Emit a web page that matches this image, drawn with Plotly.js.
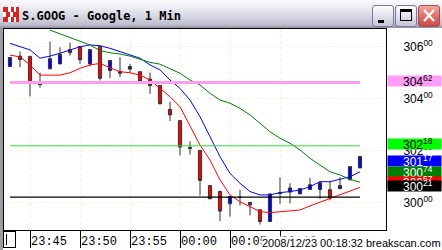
<!DOCTYPE html>
<html><head><meta charset="utf-8">
<script src="https://cdn.plot.ly/plotly-3.0.1.min.js"></script>
<style>
html,body{margin:0;padding:0;background:#fff;width:442px;height:250px;overflow:hidden;}
#bar{position:absolute;left:0;top:0;width:442px;height:28px;background:linear-gradient(#fbfbfd 0px,#ededf3 7px,#d8d8e4 16px,#bcbccc 25px,#8e8ea4 28px);}
#left{position:absolute;left:0;top:28px;width:3px;height:222px;background:#9c9ca4;}
.btn{position:absolute;top:5px;width:22px;height:22px;border:1px solid #7a7a98;border-radius:3px;box-sizing:border-box;background:linear-gradient(#fdfdff,#e2e2ec 50%,#c4c4d6);}
#bclose{background:linear-gradient(#f2a8a0,#e07068 50%,#c84a44);border-color:#a05050;}
#icon{position:absolute;left:3px;top:7px;width:16px;height:15px;background:
 linear-gradient(90deg,#d22 0 5px,#fff 5px 8px,#d22 8px 11px,#fff 11px 13px,#d22 13px);}
#icon2{position:absolute;left:3px;top:12px;width:16px;height:5px;background:linear-gradient(90deg,#fff 0 3px,#d22 3px 7px,#fff 7px 10px,#d22 10px 16px);}
#chart{position:absolute;left:0;top:0;width:442px;height:250px;}
#blbox{position:absolute;left:3px;top:231px;width:13px;height:17px;border:1px solid #000;box-sizing:border-box;background:#fff;}
#blbox i{position:absolute;left:2px;top:2px;width:1px;height:11px;background:#000;}
</style></head>
<body>
<div id="bar"></div>
<div id="icon"></div><div id="icon2"></div>
<div class="btn" style="left:372px"><div style="position:absolute;left:5px;top:14px;width:6px;height:3px;background:#000"></div></div>
<div class="btn" style="left:395px"><div style="position:absolute;left:4px;top:3px;width:12px;height:12px;border:1px solid #000;border-top-width:3px;box-sizing:border-box"></div></div>
<div class="btn" id="bclose" style="left:418px"><svg width="20" height="20" style="position:absolute;left:0;top:0"><path d="M5 4 L15 15 M15 4 L5 15" stroke="#fff" stroke-width="2.2"/></svg></div>
<div id="left"></div>
<div id="blbox"><i></i></div>
<div id="chart"></div>
<script>
// ---- data ----
const times = [
 '2008-12-22 23:43','2008-12-22 23:44','2008-12-22 23:45','2008-12-22 23:46','2008-12-22 23:47','2008-12-22 23:48',
 '2008-12-22 23:49','2008-12-22 23:50','2008-12-22 23:51','2008-12-22 23:52','2008-12-22 23:53','2008-12-22 23:54',
 '2008-12-22 23:55','2008-12-22 23:56','2008-12-22 23:57','2008-12-22 23:58','2008-12-22 23:59','2008-12-23 00:00',
 '2008-12-23 00:01','2008-12-23 00:02','2008-12-23 00:03','2008-12-23 00:04','2008-12-23 00:05','2008-12-23 00:06',
 '2008-12-23 00:07','2008-12-23 00:08','2008-12-23 00:09','2008-12-23 00:10','2008-12-23 00:11','2008-12-23 00:12',
 '2008-12-23 00:13','2008-12-23 00:14','2008-12-23 00:15','2008-12-23 00:16','2008-12-23 00:17','2008-12-23 00:18'];
const openP  = [305.23,305.63,305.62,304.56,305.14,305.33,305.88,306.00,305.33,306.00,305.08,305.04,
                305.13,305.03,304.75,304.50,303.58,303.15,302.12,302.00,300.65,300.42,299.95,300.21,
                299.91,299.72,299.27,300.35,300.40,300.33,300.50,300.50,300.49,300.53,300.87,301.33];
const highP  = [305.58,305.81,305.62,305.00,306.19,305.97,306.15,306.00,305.88,306.00,305.46,305.59,
                305.33,305.03,305.00,304.50,303.88,303.15,302.35,302.00,300.65,300.46,300.23,300.49,
                300.00,299.72,300.33,300.97,300.74,300.54,300.95,300.82,300.82,300.97,301.38,301.77];
const lowP   = [305.23,305.20,304.08,304.42,305.14,305.33,305.65,305.33,305.24,304.69,304.78,304.82,
                304.99,304.65,304.18,303.77,303.13,301.81,301.85,300.27,300.14,299.28,299.46,299.88,
                299.50,299.15,299.27,299.95,299.96,300.33,300.50,300.14,300.08,300.53,300.87,301.33];
const closeP = [305.58,305.50,304.60,304.54,305.53,305.69,305.76,305.49,305.88,304.78,305.46,304.97,
                305.23,304.65,304.50,303.80,303.37,302.13,302.08,300.85,300.14,299.67,300.23,300.19,
                300.00,299.27,300.33,300.37,300.56,300.54,300.68,300.76,300.18,300.65,301.38,301.77];
const maBlue = [306.12,305.99,305.87,305.55,305.63,305.74,305.87,305.99,306.06,306.03,305.93,305.80,
                305.67,305.55,305.29,305.10,304.71,304.39,303.94,303.30,302.53,301.76,301.12,300.74,
                300.42,300.29,300.29,300.38,300.42,300.48,300.61,300.80,300.80,300.89,300.99,301.18];
const maRed  = [305.67,305.60,305.29,304.90,304.90,304.90,304.99,305.16,305.29,305.35,305.18,305.03,
                304.99,304.90,304.71,304.40,304.07,303.68,302.92,302.21,301.63,300.87,300.29,300.03,
                299.84,299.65,299.61,299.65,299.67,299.71,299.87,300.02,300.16,300.30,300.44,300.58];
const maGreenTimes = times.slice(4);
const maGreen = [306.63,306.48,306.35,306.18,306.06,305.84,305.76,305.71,305.63,305.51,305.39,305.32,
                 305.16,304.97,304.71,304.52,304.20,303.94,303.82,303.62,303.37,303.05,302.72,302.47,
                 302.28,302.02,301.70,301.44,301.18,301.06,300.89,300.78];
const levelPink = 304.62, levelGreen = 302.18, levelBlack = 300.21;
const lastBlue = 301.17, lastGreen = 300.74, lastRed = 300.57;
const yTickVals = [300, 302, 304, 306];
const xTickVals = ['2008-12-22 23:45','2008-12-22 23:50','2008-12-22 23:55','2008-12-23 00:00',
                   '2008-12-23 00:05','2008-12-23 00:10'];
const stampText = '2008/12/23 00:18:32 breakscan.com';
const titleText = 'S.GOOG - Google, 1 Min';

// ---- chart ----
function fmt(v){ const s = v.toFixed(2).split('.'); return s[0] + '<sup>' + s[1] + '</sup>'; }
const span = [times[0], times[times.length-1]];
const traces = [
 {type:'candlestick', x:times, open:openP, high:highP, low:lowP, close:closeP,
  increasing:{line:{color:'#333333', width:1}, fillcolor:'#0000ff'},
  decreasing:{line:{color:'#333333', width:1}, fillcolor:'#ff0000'},
  whiskerwidth:0, hoverinfo:'skip'},
 {type:'scatter', mode:'lines', x:times, y:maBlue, line:{color:'#0000ff', width:1}, hoverinfo:'skip'},
 {type:'scatter', mode:'lines', x:times, y:maRed, line:{color:'#ff0000', width:1}, hoverinfo:'skip'},
 {type:'scatter', mode:'lines', x:maGreenTimes, y:maGreen, line:{color:'#008000', width:1}, hoverinfo:'skip'},
 {type:'scatter', mode:'lines', x:span, y:[levelPink, levelPink], line:{color:'#ff9cf0', width:3}, hoverinfo:'skip'},
 {type:'scatter', mode:'lines', x:span, y:[levelGreen, levelGreen], line:{color:'#30dd30', width:1}, hoverinfo:'skip'},
 {type:'scatter', mode:'lines', x:span, y:[levelBlack, levelBlack], line:{color:'#000000', width:1.3}, hoverinfo:'skip'}
];
function box(v, bg, fg, shift){
  return [
   {xref:'paper', x:1, xanchor:'left', xshift:1, yref:'y', y:v, yanchor:'middle', yshift:shift,
    text:'&nbsp;', showarrow:false, width:53, height:10, bgcolor:bg, borderpad:0,
    font:{family:'Liberation Sans', size:8, color:fg}},
   {xref:'paper', x:1, xanchor:'left', xshift:16, yref:'y', y:v, yanchor:'middle', yshift:shift,
    text:fmt(v), showarrow:false, borderpad:0,
    font:{family:'Liberation Sans', size:12, color:fg}}
  ];
}
const annotations = [].concat(
  box(levelPink, '#ff9cf8', '#000', 1.5),
  box(levelGreen, '#00ff00', '#000', 1.5),
  box(lastBlue, '#0000ff', '#fff', 11),
  box(lastGreen, '#008000', '#fff', 11.5),
  box(lastRed, '#ff0000', '#fff', 6),
  box(levelBlack, '#000000', '#fff', 11),
  [{xref:'paper', x:1, xanchor:'right', xshift:56, yref:'paper', y:0, yanchor:'middle', yshift:-12.5,
   text:stampText, showarrow:false, bgcolor:'#ffffff', borderpad:0,
   font:{family:'Liberation Sans', size:11, color:'#000'}}]
);
const layout = {
  width:442, height:250, margin:{l:4, r:56, t:29, b:20, pad:0},
  paper_bgcolor:'rgba(0,0,0,0)', plot_bgcolor:'#ffffff', showlegend:false, boxgap:0.55,
  title:{text:titleText, xref:'container', yref:'container', x:22/442, xanchor:'left', y:1-15.5/250, yanchor:'middle',
    font:{family:'DejaVu Sans Mono', size:12, color:'#000', weight:'bold'}},
  xaxis:{type:'date', range:['2008-12-22 23:42:24','2008-12-23 00:20:36'], tickvals:xTickVals, tickformat:'%H:%M',
    ticks:'outside', ticklen:17, tickcolor:'#000', tickwidth:1, ticklabelshift:19, ticklabelstandoff:-17,
    tickfont:{family:'Liberation Mono', size:12, color:'#000'}, showgrid:true, gridcolor:'#f4f4d4', griddash:'dot', gridwidth:1,
    zeroline:false, showline:true, mirror:true, linecolor:'#000', linewidth:1, rangeslider:{visible:false}, fixedrange:true},
  yaxis:{side:'right', range:[298.942, 306.673], tickvals:yTickVals, ticktext:yTickVals.map(v=>fmt(v)),
    ticks:'', ticklabelstandoff:14, tickfont:{family:'Liberation Sans', size:12, color:'#000'},
    showgrid:true, gridcolor:'#f4f4d4', griddash:'dot', gridwidth:1,
    zeroline:false, showline:true, mirror:true, linecolor:'#000', linewidth:1, fixedrange:true},
  annotations:annotations
};
Plotly.newPlot('chart', traces, layout, {staticPlot:true, displayModeBar:false});
</script>
</body></html>
